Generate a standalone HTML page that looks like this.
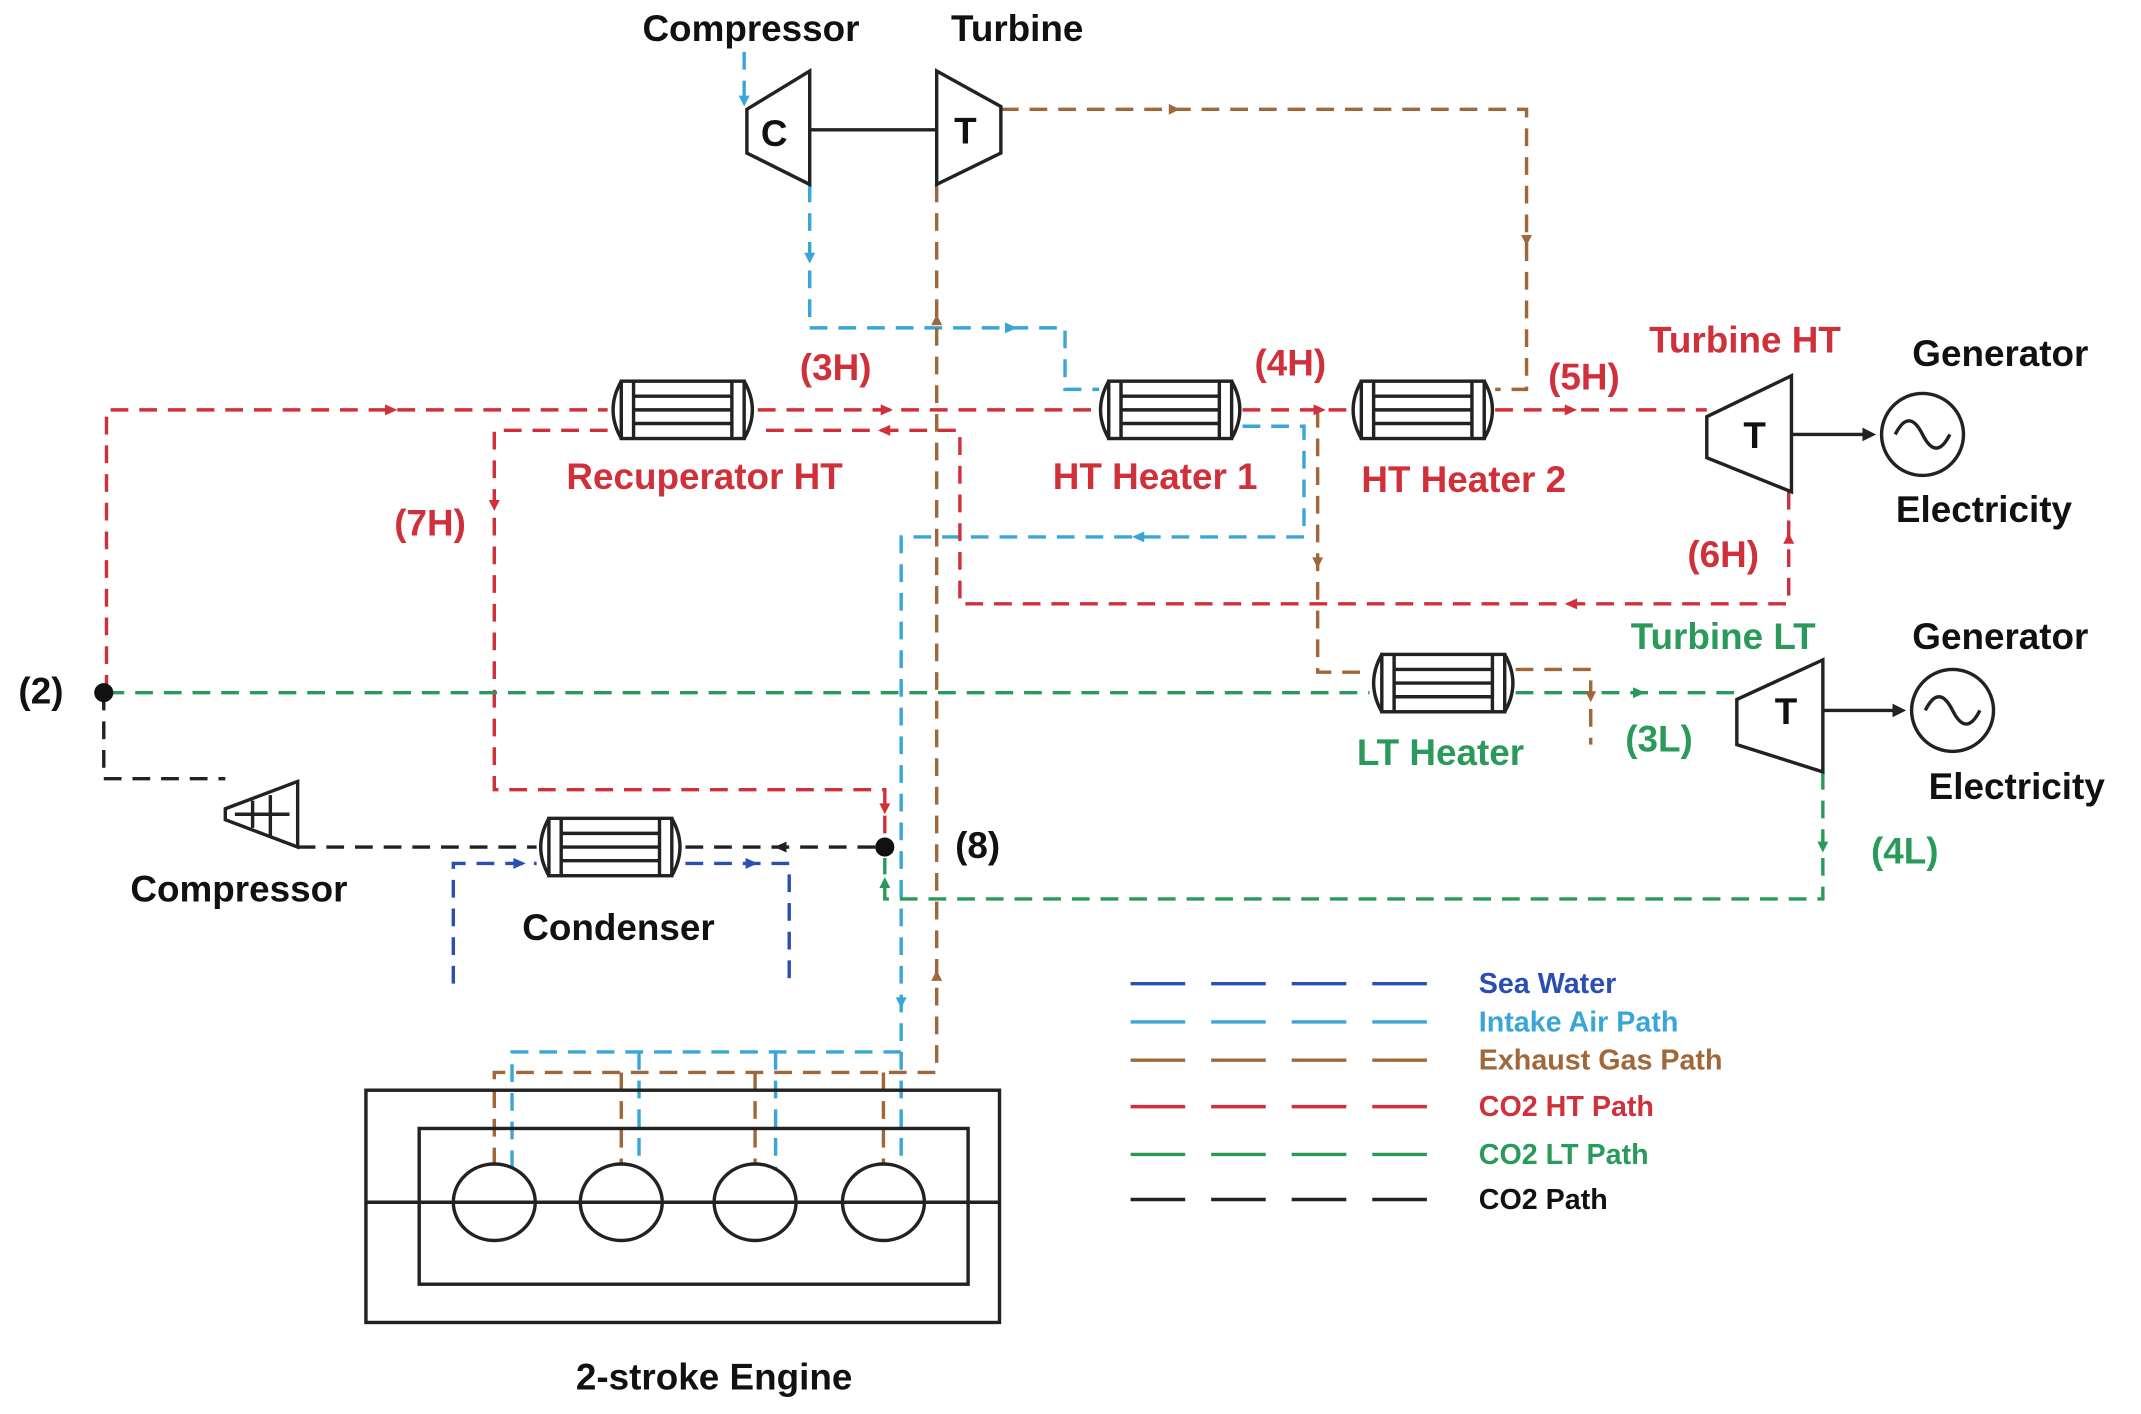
<!DOCTYPE html>
<html><head><meta charset="utf-8"><style>
html,body{margin:0;padding:0;background:#fff}
svg{display:block}
text{font-family:"Liberation Sans",sans-serif;font-weight:bold}
</style></head><body>
<svg width="2141" height="1414" viewBox="0 0 1568 1035" preserveAspectRatio="none" xmlns="http://www.w3.org/2000/svg">
<defs>
<g id="hx">
<rect x="-45" y="-21" width="90" height="42" fill="#fff" stroke="#222" stroke-width="2.5"/>
<path d="M-45,-21 Q-57,0 -45,21 M45,-21 Q57,0 45,21" fill="none" stroke="#222" stroke-width="2.5"/>
<path d="M-36,-21 V21 M36,-21 V21 M-36,-10 H36 M-36,0 H36 M-36,10 H36" stroke="#222" stroke-width="2.5"/>
</g>
</defs>
<g fill="none" stroke-width="2.5" stroke-dasharray="13 8">
<g stroke="#3aa6d6">
<path d="M545,38 V75"/>
<path d="M593,135 V240 H780 V285 H805"/>
<path d="M910,312 H955 V393 H660 V770 H375 V860"/>
<path d="M468,770 V855 M568,770 V855 M660,770 V855"/>
</g>
<g stroke="#a0683a">
<path d="M733,80 H1118 V285 H1095"/>
<path d="M686,135 V785 H362 V852"/>
<path d="M455,785 V852 M553,785 V852 M647,785 V852"/>
<path d="M965,300 V492 H1003"/>
<path d="M1110,490 H1165 V545"/>
</g>
<g stroke="#d0303a">
<path d="M78,507 V300 H445"/>
<path d="M555,300 H803"/>
<path d="M910,300 H988"/>
<path d="M1095,300 H1250"/>
<path d="M1310,360 V442 H703 V315 H555"/>
<path d="M445,315 H362 V578 H648 V612"/>
</g>
<g stroke="#2a9a5a">
<path d="M78,507 H1003 M1110,507 H1272"/>
<path d="M1335,565 V658 H648 V628"/>
</g>
<g stroke="#222">
<path d="M76,507 V570 H165"/>
<path d="M218,620 H393 M502,620 H648"/>
</g>
<g stroke="#2a4fb0">
<path d="M332,720 V632 H393 M502,632 H578 V720"/>
</g>
<path d="M828,720 H1045" stroke="#2a4fb0" stroke-dasharray="40 19"/>
<path d="M828,748 H1045" stroke="#3aa6d6" stroke-dasharray="40 19"/>
<path d="M828,776 H1045" stroke="#a0683a" stroke-dasharray="40 19"/>
<path d="M828,810 H1045" stroke="#d0303a" stroke-dasharray="40 19"/>
<path d="M828,845 H1045" stroke="#2a9a5a" stroke-dasharray="40 19"/>
<path d="M828,878 H1045" stroke="#222" stroke-dasharray="40 19"/>
</g>
<g fill="#3aa6d6">
<polygon points="541,70 549,70 545,78"/><polygon points="589,185 597,185 593,193"/>
<polygon points="736,236 736,244 745,240"/><polygon points="838,389 838,397 829,393"/>
<polygon points="656,730 664,730 660,738"/>
</g>
<g fill="#a0683a">
<polygon points="856,76 856,84 864,80"/><polygon points="1114,172 1122,172 1118,180"/>
<polygon points="682,238 690,238 686,230"/><polygon points="682,718 690,718 686,710"/>
<polygon points="961,408 969,408 965,416"/><polygon points="1161,506 1169,506 1165,514"/>
</g>
<g fill="#d0303a">
<polygon points="282,296 282,304 291,300"/><polygon points="645,296 645,304 654,300"/>
<polygon points="962,296 962,304 971,300"/><polygon points="1146,296 1146,304 1155,300"/>
<polygon points="1306,398 1314,398 1310,390"/><polygon points="1155,438 1155,446 1146,442"/>
<polygon points="652,311 652,319 643,315"/><polygon points="358,366 366,366 362,374"/>
<polygon points="644,588 652,588 648,596"/>
</g>
<g fill="#2a9a5a">
<polygon points="1196,503 1196,511 1205,507"/><polygon points="1331,616 1339,616 1335,624"/>
<polygon points="644,650 652,650 648,642"/>
</g>
<g fill="#2a4fb0">
<polygon points="376,628 376,636 385,632"/><polygon points="546,628 546,636 555,632"/>
</g>
<polygon points="576,616 576,624 567,620" fill="#222"/>
<use href="#hx" x="500" y="300"/>
<use href="#hx" x="857" y="300"/>
<use href="#hx" x="1042" y="300"/>
<use href="#hx" x="1057" y="500"/>
<use href="#hx" x="447" y="620"/>
<g fill="#fff" stroke="#222" stroke-width="2.5">
<polygon points="547,80 593,52 593,135 547,112"/>
<line x1="593" y1="95" x2="686" y2="95"/>
<polygon points="686,52 733,78 733,112 686,135"/>
<polygon points="1250,305 1312,275 1312,360 1250,335"/>
<polygon points="1272,512 1335,483 1335,565 1272,545"/>
<polygon points="165,592 218,572 218,620 165,600"/>
<path d="M172,596 H212 M185,586 V606 M198,582 V612" fill="none"/>
<circle cx="1408" cy="318" r="30" fill="none"/>
<circle cx="1430" cy="520" r="30" fill="none"/>
<path d="M1388,318 Q1398,298 1408,318 T1428,318" fill="none"/>
<path d="M1410,520 Q1420,500 1430,520 T1450,520" fill="none"/>
<line x1="1312" y1="318" x2="1366" y2="318"/>
<line x1="1335" y1="520" x2="1388" y2="520"/>
<rect x="268" y="798" width="464" height="170" fill="none"/>
<rect x="307" y="826" width="402" height="114" fill="none"/>
<line x1="268" y1="880" x2="732" y2="880"/>
<ellipse cx="362" cy="880" rx="30" ry="28" fill="none"/>
<ellipse cx="455" cy="880" rx="30" ry="28" fill="none"/>
<ellipse cx="553" cy="880" rx="30" ry="28" fill="none"/>
<ellipse cx="647" cy="880" rx="30" ry="28" fill="none"/>
</g>
<polygon points="1364,313 1364,323 1374,318" fill="#222"/>
<polygon points="1386,515 1386,525 1396,520" fill="#222"/>
<circle cx="76" cy="507" r="7" fill="#111"/>
<circle cx="648" cy="620" r="7" fill="#111"/>
<g font-size="27" fill="#111" text-anchor="middle">
<text x="550" y="30">Compressor</text>
<text x="745" y="30">Turbine</text>
<text x="567" y="107">C</text>
<text x="707" y="105">T</text>
<text x="1285" y="328">T</text>
<text x="1308" y="530">T</text>
<text x="1465" y="268">Generator</text>
<text x="1453" y="382">Electricity</text>
<text x="1465" y="475">Generator</text>
<text x="1477" y="585">Electricity</text>
<text x="30" y="515">(2)</text>
<text x="716" y="628">(8)</text>
<text x="175" y="660">Compressor</text>
<text x="453" y="688">Condenser</text>
<text x="523" y="1017">2-stroke Engine</text>
</g>
<g font-size="27" fill="#d0303a" text-anchor="middle">
<text x="612" y="278">(3H)</text>
<text x="945" y="275">(4H)</text>
<text x="1160" y="285">(5H)</text>
<text x="1278" y="258">Turbine HT</text>
<text x="1262" y="415">(6H)</text>
<text x="315" y="392">(7H)</text>
<text x="516" y="358">Recuperator HT</text>
<text x="846" y="358">HT Heater 1</text>
<text x="1072" y="360">HT Heater 2</text>
</g>
<g font-size="27" fill="#2a9a5a" text-anchor="middle">
<text x="1262" y="475">Turbine LT</text>
<text x="1055" y="560">LT Heater</text>
<text x="1215" y="550">(3L)</text>
<text x="1395" y="632">(4L)</text>
</g>
<g font-size="21">
<text x="1083" y="727" fill="#2a4fb0">Sea Water</text>
<text x="1083" y="755" fill="#3aa6d6">Intake Air Path</text>
<text x="1083" y="783" fill="#a0683a">Exhaust Gas Path</text>
<text x="1083" y="817" fill="#d0303a">CO2 HT Path</text>
<text x="1083" y="852" fill="#2a9a5a">CO2 LT Path</text>
<text x="1083" y="885" fill="#111">CO2 Path</text>
</g>
</svg>
</body></html>
